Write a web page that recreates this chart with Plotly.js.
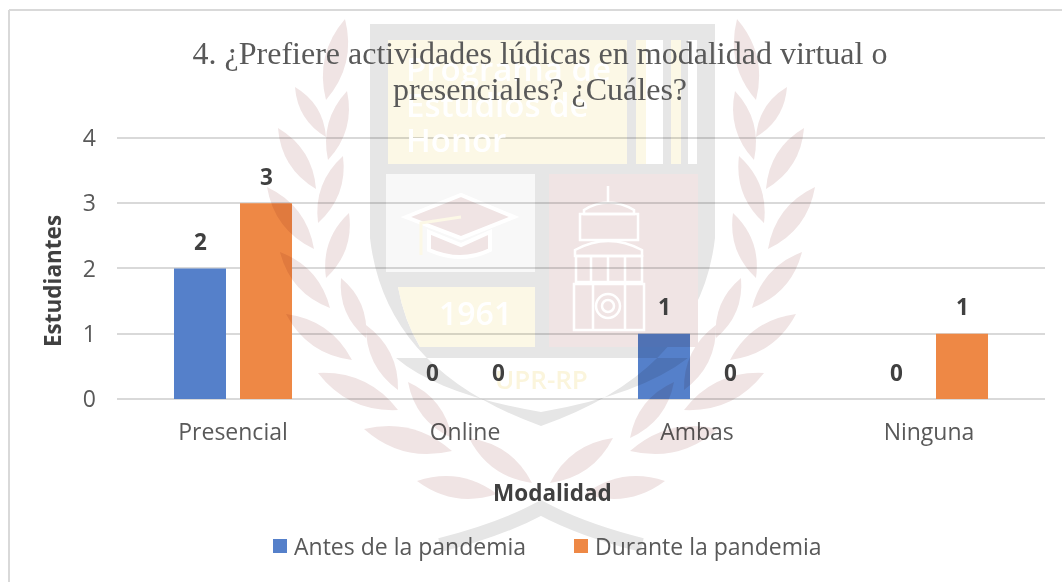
<!DOCTYPE html>
<html>
<head>
<meta charset="utf-8">
<script src="https://cdn.plot.ly/plotly-3.0.1.min.js"></script>
<style>
html, body { margin: 0; padding: 0; background: #fff; }
.layer-above image { mix-blend-mode: multiply; }
</style>
</head>
<body>
<div id="chart" style="width:1062px;height:582px;"></div>
<script>
var categories = ['Presencial', 'Online', 'Ambas', 'Ninguna'];
var antes = [2, 0, 1, 0];
var durante = [3, 0, 0, 1];
var yTicks = [0, 1, 2, 3, 4];

var W = 1062, H = 582;
// top margin leaves 2px above the y=4 gridline, plotly drops gridlines right at the range end
var mLeft = 117, mRight = 17, mTop = 136, mBottom = 183;
var plotW = W - mLeft - mRight, plotH = H - mTop - mBottom;

// pixel position on the page -> paper coordinates
var px = function(x){ return (x - mLeft) / plotW; };
var py = function(y){ return (H - mBottom - y) / plotH; };

// laurel leaves of the watermark, left half: [x1, y1, x2, y2]
var leaves = [
  [345,19,326,100], [295,87,326,137], [347,91,328,160], [278,128,316,189],
  [343,156,318,223], [267,187,314,249], [349,213,326,278], [280,252,330,308],
  [341,278,366,338], [286,314,352,360], [366,325,398,390], [318,373,398,410],
  [408,382,452,438], [364,429,452,451], [469,438,532,483], [417,481,497,494]
];

var leafPath = function(l){
  var dx = l[2] - l[0], dy = l[3] - l[1];
  var mx = (l[0] + l[2]) / 2, my = (l[1] + l[3]) / 2;
  var nx = -dy * 0.26, ny = dx * 0.26;
  return 'M' + l[0] + ',' + l[1] +
    'Q' + (mx + nx) + ',' + (my + ny) + ' ' + l[2] + ',' + l[3] +
    'Q' + (mx - nx) + ',' + (my - ny) + ' ' + l[0] + ',' + l[1] + 'Z';
};

var watermark = function(){
  var leafSvg = leaves.map(function(l){
    var m = [1082 - l[0], l[1], 1082 - l[2], l[3]];
    return '<path d="' + leafPath(l) + '"/><path d="' + leafPath(m) + '"/>';
  }).join('');
  var svg = '<svg xmlns="http://www.w3.org/2000/svg" width="1062" height="582" viewBox="0 0 1062 582">' +
    '<g fill="#f0e4e4">' + leafSvg + '</g>' +
    // shield with openings for the panels
    '<path fill="#e6e6e6" fill-rule="evenodd" d="M370,24H715V238Q700,370 541,426Q385,370 370,238Z' +
    'M388,40H627V164H388Z M636,40H697V164H636Z M386,174H535V272H386Z M549,174H698V347H549Z' +
    'M398,287H535V347H420Q404,320 398,287Z M396,358H688Q640,395 541,412Q440,395 396,358Z"/>' +
    '<rect x="636" y="40" width="61" height="124" fill="#e6e6e6"/>' +
    '<rect x="388" y="40" width="239" height="124" fill="#fcf8e6"/>' +
    '<rect x="636" y="40" width="10" height="124" fill="#fcf8e6"/>' +
    '<rect x="646" y="40" width="17" height="124" fill="#fff"/>' +
    '<rect x="671" y="40" width="10" height="124" fill="#fcf8e6"/>' +
    '<rect x="688" y="40" width="9" height="124" fill="#fff"/>' +
    '<rect x="386" y="174" width="149" height="98" fill="#f8f8f8"/>' +
    '<rect x="549" y="174" width="149" height="173" fill="#f0e4e4"/>' +
    '<path fill="#fcf8e6" d="M398,287H535V347H420Q404,320 398,287Z"/>' +
    // graduation cap
    '<path fill="#f0e4e4" stroke="#fff" stroke-width="4" d="M406,217L461,195L514,217L461,238Z"/>' +
    '<path fill="#f0e4e4" stroke="#fff" stroke-width="4" d="M429,232L461,245L490,232V250Q461,264 429,250Z"/>' +
    '<path fill="none" stroke="#fcf8e6" stroke-width="3" d="M461,217L421,223V255"/>' +
    // tower
    '<g fill="none" stroke="#fff" stroke-width="2.5">' +
    '<path d="M608,186V202M584,210Q608,195 634,210V214H584Z"/>' +
    '<rect x="580" y="214" width="58" height="26"/>' +
    '<path d="M575,250Q608,232 642,250V256H575Z"/>' +
    '<rect x="576" y="256" width="66" height="26"/>' +
    '<rect x="574" y="284" width="70" height="46"/>' +
    '<path d="M593,284V330M625,284V330M591,256V282M608,256V282M625,256V282"/>' +
    '<circle cx="608" cy="306" r="12"/><circle cx="608" cy="306" r="6"/>' +
    '</g>' +
    // crossed stems
    '<path fill="none" stroke="#e6e6e6" stroke-width="14" d="M440,545Q500,530 541,508Q582,530 642,545"/>' +
    '</svg>';
  return 'data:image/svg+xml;base64,' + btoa(svg);
};

var trace1 = {
  x: categories,
  y: antes,
  type: 'bar',
  name: 'Antes de la pandemia',
  marker: { color: '#5580CA' }
};
var trace2 = {
  x: categories,
  y: durante,
  type: 'bar',
  name: 'Durante la pandemia',
  marker: { color: '#EE8845' }
};

var boldFont = { family: 'Open Sans', size: 22.5, color: '#404040', weight: 700 };

// value labels sit higher above the bars than textposition outside allows
var valueLabels = function(values, shift){
  return values.map(function(v, i){
    return { text: String(v), xref: 'x', yref: 'y', x: categories[i], y: v, xshift: shift, yshift: 27,
      xanchor: 'center', yanchor: 'middle', showarrow: false, font: boldFont };
  });
};

var crestText = function(text, x, y, anchor, size, color){
  return { text: text, xref: 'paper', yref: 'paper', x: px(x), y: py(y), xanchor: anchor, yanchor: 'middle',
    showarrow: false, font: { family: 'Open Sans', size: size, color: color, weight: 600 } };
};

var layout = {
  width: W,
  height: H,
  margin: { l: mLeft, r: mRight, t: mTop, b: mBottom, pad: 0 },
  paper_bgcolor: '#ffffff',
  plot_bgcolor: 'rgba(0,0,0,0)',
  barmode: 'group',
  bargap: 0.431,
  bargroupgap: 0.212,
  title: {
    text: '4. ¿Prefiere actividades lúdicas en modalidad virtual o<br>presenciales? ¿Cuáles?',
    font: { family: 'Liberation Serif', size: 32, color: '#595959' },
    x: 540 / W,
    xanchor: 'center',
    y: 1 - 64 / H,
    yanchor: 'middle'
  },
  xaxis: {
    tickfont: { family: 'Open Sans', size: 23, color: '#595959' },
    showline: false,
    showgrid: false,
    zeroline: false,
    ticks: '',
    ticklabelstandoff: 17
  },
  yaxis: {
    range: [0, 4.03],
    tickmode: 'array',
    tickvals: yTicks,
    ticktext: yTicks.map(String),
    tickfont: { family: 'Open Sans', size: 23, color: '#595959' },
    gridcolor: '#d9d9d9',
    gridwidth: 2,
    zeroline: true,
    zerolinecolor: '#d9d9d9',
    zerolinewidth: 2,
    ticks: '',
    ticklabelstandoff: 20
  },
  showlegend: true,
  legend: {
    orientation: 'h',
    x: px(254),
    xanchor: 'left',
    y: py(546),
    yanchor: 'middle',
    entrywidth: 256,
    entrywidthmode: 'pixels',
    traceorder: 'normal',
    font: { family: 'Open Sans', size: 23, color: '#595959' },
    bgcolor: 'rgba(0,0,0,0)'
  },
  annotations: [
    { text: 'Modalidad', xref: 'paper', yref: 'paper', x: px(552), y: py(492), xanchor: 'center', yanchor: 'middle',
      showarrow: false, font: boldFont },
    { text: 'Estudiantes', xref: 'paper', yref: 'paper', x: px(52), y: py(281), xanchor: 'center', yanchor: 'middle',
      textangle: -90, showarrow: false, font: boldFont },
    crestText('Programa de', 404, 69, 'left', 33, '#ffffff'),
    crestText('Estudios de', 404, 104, 'left', 33, '#ffffff'),
    crestText('Honor', 404, 139, 'left', 33, '#ffffff'),
    crestText('1961', 475, 312, 'center', 32, '#ffffff'),
    crestText('UPR-RP', 541, 379, 'center', 26, '#fbf5dc')
  ].concat(valueLabels(antes, -33), valueLabels(durante, 33)),
  shapes: [
    // frame of the picture: only left and top edges show
    { type: 'line', xref: 'paper', yref: 'paper', x0: px(9), x1: px(9), y0: py(582), y1: py(10),
      line: { color: '#d9d9d9', width: 2 }, layer: 'below' },
    { type: 'line', xref: 'paper', yref: 'paper', x0: px(9), x1: px(1062), y0: py(10), y1: py(10),
      line: { color: '#d9d9d9', width: 2 }, layer: 'below' }
  ],
  images: [
    { source: watermark(), xref: 'paper', yref: 'paper', x: px(0), y: py(0),
      sizex: W / plotW, sizey: H / plotH, sizing: 'stretch', xanchor: 'left', yanchor: 'top', layer: 'above' }
  ]
};

Plotly.newPlot('chart', [trace1, trace2], layout, { displayModeBar: false }).then(function(gd){
  // title goes over the white crest text, with tighter lines
  var title = gd.querySelector('.g-gtitle');
  title.parentNode.appendChild(title);
  var lines = title.querySelectorAll('tspan.line');
  if (lines[1]) lines[1].setAttribute('dy', '1.12em');
  // larger legend swatches, nearer to the text
  gd.querySelectorAll('.legendpoints path').forEach(function(p){
    p.setAttribute('d', 'M13,7H-1V-7H13Z');
  });
});
</script>
</body>
</html>
